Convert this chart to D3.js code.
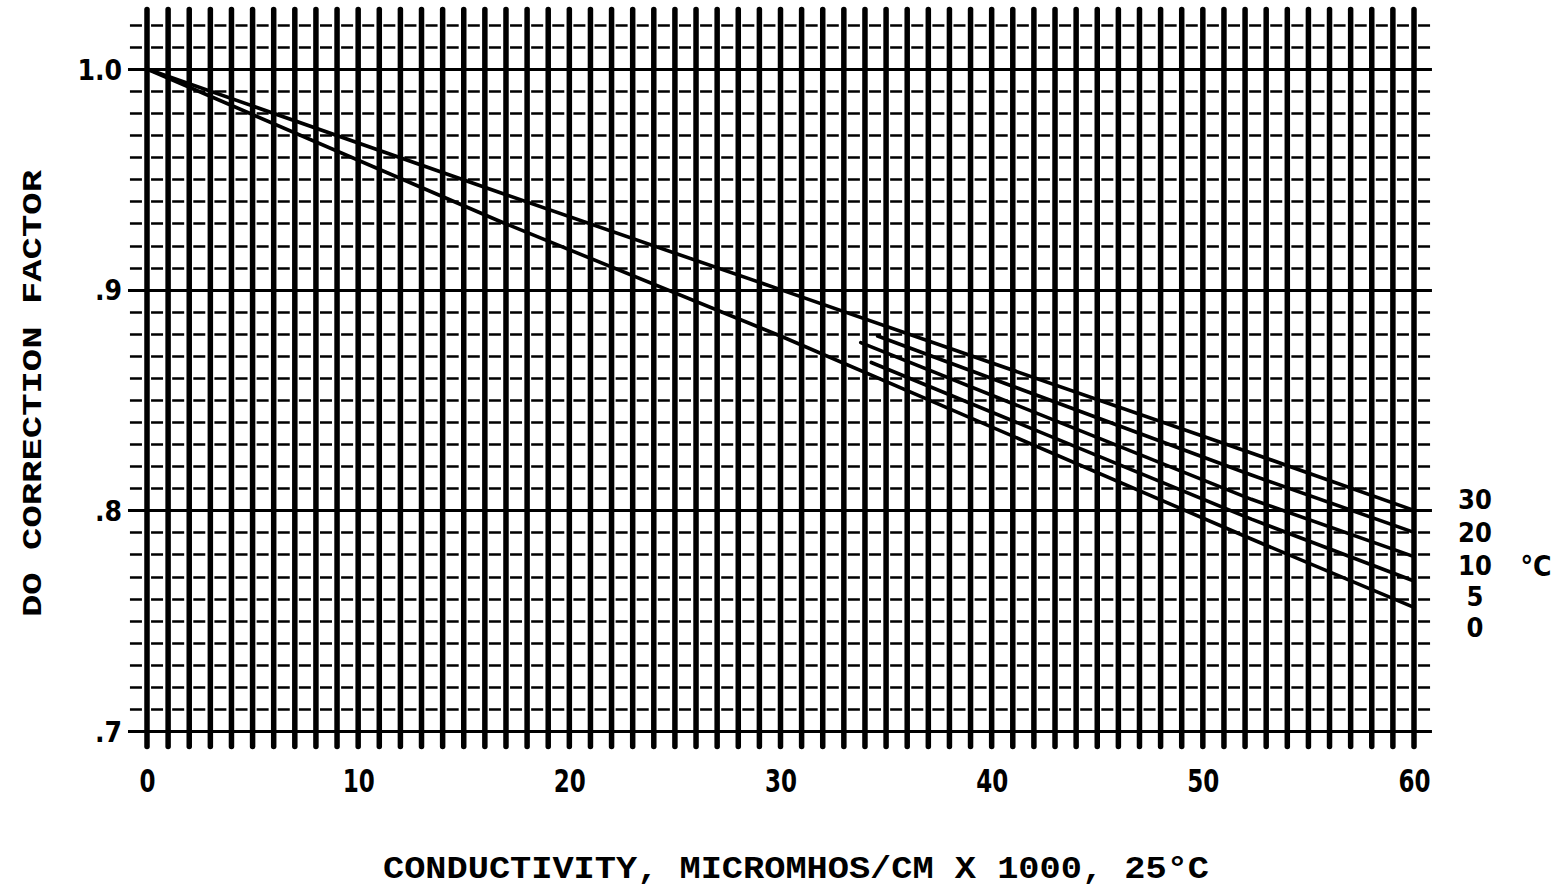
<!DOCTYPE html>
<html>
<head>
<meta charset="utf-8">
<script src="https://cdn.jsdelivr.net/npm/d3@7/dist/d3.min.js"></script>
<style>
  html, body { margin: 0; padding: 0; background: #fff; }
  svg { display: block; }
  .num { font-family: "Liberation Sans Narrow", "DejaVu Sans Condensed", "Arial Narrow", sans-serif; font-weight: bold; fill: #000; }
  .title { font-family: "Liberation Mono", "DejaVu Sans Mono", monospace; font-weight: bold; fill: #000; }
</style>
</head>
<body>
<svg id="chart" width="1564" height="890"></svg>
<script>
// ---- data ----
const xTicks = [0, 10, 20, 30, 40, 50, 60];
const yTicks = [0.7, 0.8, 0.9, 1.0];
const yTickLabels = [".7", ".8", ".9", "1.0"];
const temperatures = ["30", "20", "10", "5", "0"];
const tempLabelPos = [0.805, 0.790, 0.775, 0.761, 0.747];
const line30 = [[0, 1.000], [16.7, 0.944], [30, 0.900], [52.3, 0.826], [60, 0.800]];
const line20 = [[34.6, 0.879], [52.3, 0.816], [60, 0.790]];
const line10 = [[33.8, 0.876], [52.3, 0.805], [60, 0.779]];
const line5  = [[34.3, 0.867], [52.3, 0.796], [60, 0.768]];
const line0  = [[0, 1.000], [16.7, 0.931], [30, 0.879], [52.3, 0.787], [60, 0.756]];
const xTitle = "CONDUCTIVITY, MICROMHOS/CM X 1000, 25°C";
const yTitle = "DO CORRECTION FACTOR";

// ---- scales ----
const svg = d3.select("#chart");
const x = d3.scaleLinear().domain([0, 60]).range([147, 1414]);
const y = d3.scaleLinear().domain([0.7, 1.0]).range([731, 69]);
const step = x(1) - x(0);

// horizontal grid (every 0.01 from 0.70 to 1.02)
const hVals = d3.range(70, 103).map(d => d / 100);
const hx0 = x(-0.9), hx1 = x(60.85);
const dashLen = 12, gapLen = step - dashLen;
const firstDash = x(0) + (step - dashLen) / 2 - 0.5;
const offset = ((step - ((firstDash - hx0) % step)) % step);
const grid = svg.append("g");
grid.selectAll("line.h").data(hVals).join("line")
  .attr("class", "h")
  .attr("x1", hx0).attr("x2", hx1)
  .attr("y1", d => Math.round(y(d)) + 0.5).attr("y2", d => Math.round(y(d)) + 0.5)
  .attr("stroke", "#000")
  .attr("stroke-width", d => (Math.round(d * 100) % 10 === 0) ? 3 : 2.5)
  .attr("stroke-dasharray", d => (Math.round(d * 100) % 10 === 0) ? null : dashLen + "," + gapLen)
  .attr("stroke-dashoffset", offset);

// vertical thick lines at every unit
const vVals = d3.range(0, 61);
grid.selectAll("line.v").data(vVals).join("line")
  .attr("class", "v")
  .attr("x1", d => x(d)).attr("x2", d => x(d))
  .attr("y1", y(1.027)).attr("y2", y(0.693))
  .attr("stroke", "#000").attr("stroke-width", 5.5)
  .attr("stroke-linecap", "round");

// curves
const lineGen = d3.line().x(d => x(d[0])).y(d => y(d[1]));
svg.append("g").selectAll("path").data([line30, line20, line10, line5, line0]).join("path")
  .attr("d", lineGen)
  .attr("fill", "none").attr("stroke", "#000")
  .attr("stroke-width", 3.6).attr("stroke-linecap", "round");

// x axis labels
const xAxis = d3.axisBottom(x).tickValues(xTicks).tickSize(0).tickPadding(0).tickFormat(d3.format("d"));
const gx = svg.append("g").attr("transform", "translate(0,763)").call(xAxis);
gx.select(".domain").remove();
gx.selectAll("text").attr("class", "num").attr("font-size", 32).attr("dy", "0.9em")
  .attr("transform", "scale(0.8,1)");
gx.attr("font-family", null).attr("font-size", null);

// y axis labels
const yAxis = d3.axisLeft(y).tickValues(yTicks).tickSize(0).tickPadding(25)
  .tickFormat((d, i) => yTickLabels[i]);
const gy = svg.append("g").attr("transform", "translate(147,0)").call(yAxis);
gy.select(".domain").remove();
gy.selectAll("text").attr("class", "num").attr("font-size", 28).attr("dy", "0.36em");
gy.attr("font-family", null).attr("font-size", null);

// temperature labels
svg.append("g").selectAll("text").data(temperatures).join("text")
  .attr("class", "num")
  .attr("x", 1475).attr("y", (d, i) => y(tempLabelPos[i]))
  .attr("dy", "0.36em").attr("text-anchor", "middle")
  .attr("font-size", 27)
  .text(d => d);
svg.append("text").attr("class", "num")
  .attr("x", 1536).attr("y", y(0.775)).attr("dy", "0.36em")
  .attr("text-anchor", "middle").attr("font-size", 28)
  .text("°C");

// titles
svg.append("text").attr("class", "title")
  .attr("x", 383).attr("y", 878)
  .attr("font-size", 31)
  .attr("textLength", 826).attr("lengthAdjust", "spacingAndGlyphs")
  .text(xTitle);
svg.append("text").attr("class", "title")
  .attr("transform", "translate(41,617) rotate(-90)")
  .attr("font-size", 27)
  .attr("textLength", 447).attr("lengthAdjust", "spacingAndGlyphs")
  .text(yTitle);
</script>
</body>
</html>
